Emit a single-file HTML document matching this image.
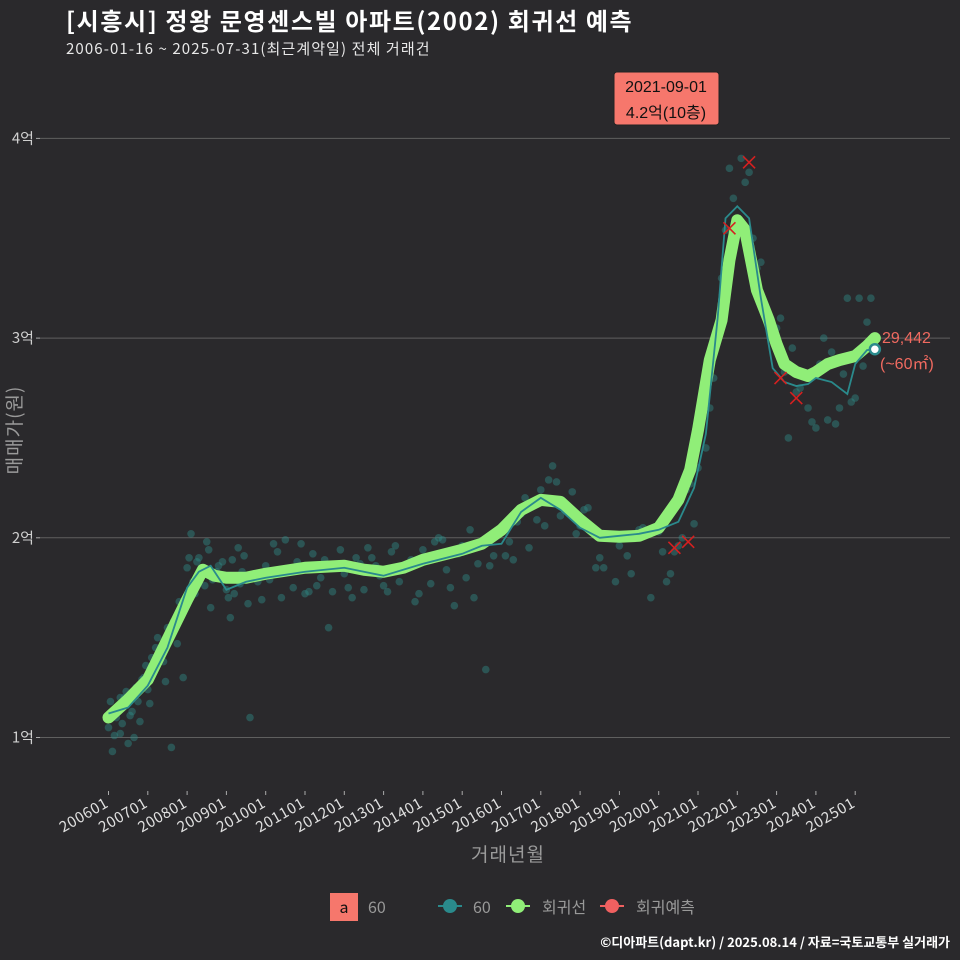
<!DOCTYPE html>
<html><head><meta charset="utf-8">
<style>
html,body{margin:0;padding:0;background:#2a292c;}
svg{display:block;font-family:"Noto Sans CJK KR","Liberation Sans",sans-serif;}
</style></head>
<body>
<svg id="chart" width="960" height="960" viewBox="0 0 960 960">
<rect x="0" y="0" width="960" height="960" fill="#2a292c"/>
<text x="66" y="30" font-size="24" font-weight="bold" letter-spacing="1.6" fill="#ffffff">[시흥시] 정왕 문영센스빌 아파트(2002) 회귀선 예측</text>
<text x="66" y="54" font-size="15" letter-spacing="1.1" fill="#e8e8e8">2006-01-16 ~ 2025-07-31(최근계약일) 전체 거래건</text>
<g id="grid"></g>
<g id="scatter"></g>
<g id="lines"></g>
<g id="xaxis"></g>
<text x="508" y="861" font-size="19" letter-spacing="1" fill="#9a9a9a" text-anchor="middle">거래년월</text>
<text transform="translate(21,430) rotate(-90)" font-size="19" letter-spacing="1" fill="#9a9a9a" text-anchor="middle">매매가(원)</text>
<g>
<rect x="614" y="72" width="105" height="53" rx="3" fill="#f6776c" stroke="#222" stroke-width="1"/>
<text x="666" y="92" font-family="Liberation Sans,Noto Sans CJK KR,sans-serif" font-size="16" fill="#111" text-anchor="middle">2021-09-01</text>
<text x="666" y="118" font-family="Liberation Sans,Noto Sans CJK KR,sans-serif" font-size="16" fill="#111" text-anchor="middle">4.2억(10층)</text>
</g>
<text x="882" y="343" font-family="Liberation Sans,sans-serif" font-size="16" fill="#f06a60">29,442</text>
<text x="880" y="369" font-family="Liberation Sans,Noto Sans CJK KR,sans-serif" font-size="16" fill="#f06a60">(~60㎡)</text>
<g>
<rect x="330" y="893" width="28" height="28" fill="#f6776c"/>
<text x="344" y="913" font-size="16" fill="#111" text-anchor="middle">a</text>
<text x="368" y="913" font-size="16" fill="#999">60</text>
<g><line x1="438" y1="906" x2="462" y2="906" stroke="#2a8a8c" stroke-width="2"/><circle cx="450" cy="906" r="7" fill="#2a8a8c"/><text x="473" y="913" font-size="16" fill="#999">60</text></g>
<g><line x1="506" y1="906" x2="530" y2="906" stroke="#90ee78" stroke-width="2"/><circle cx="518" cy="906" r="7" fill="#90ee78"/><text x="542" y="913" font-size="16" fill="#999">회귀선</text></g>
<g><line x1="600" y1="906" x2="624" y2="906" stroke="#f06060" stroke-width="2"/><circle cx="612" cy="906" r="7" fill="#f06060"/><text x="636" y="913" font-size="16" fill="#999">회귀예측</text></g>
</g>
<text x="950" y="947" font-size="13" font-weight="bold" fill="#ffffff" text-anchor="end">©디아파트(dapt.kr) / 2025.08.14 / 자료=국토교통부 실거래가</text>
</svg>
<script>
const yTicks=[10000,20000,30000,40000];
const yTickLabels=["1억","2억","3억","4억"];
const xTickYears=[2006,2007,2008,2009,2010,2011,2012,2013,2014,2015,2016,2017,2018,2019,2020,2021,2022,2023,2024,2025];
const xTickLabels=["200601","200701","200801","200901","201001","201101","201201","201301","201401","201501","201601","201701","201801","201901","202001","202101","202201","202301","202401","202501"];
const regT=[2006.0,2006.5,2007.0,2007.5,2008.0,2008.4,2008.7,2009.0,2009.5,2010,2011,2012,2012.5,2013,2013.5,2014,2015,2015.5,2016,2016.5,2017,2017.5,2018,2018.5,2019,2019.5,2020,2020.5,2020.8,2021.0,2021.3,2021.6,2021.8,2022.0,2022.2,2022.5,2022.8,2023.0,2023.2,2023.5,2023.8,2024.0,2024.3,2024.6,2025.0,2025.3,2025.5];
const regV=[11000,11900,12900,14900,16900,18400,18100,18000,18000,18200,18500,18600,18400,18300,18500,18900,19400,19700,20400,21400,21900,21800,20900,20100,20050,20100,20500,21900,23400,25400,28900,30900,33900,35900,35400,32400,30900,29700,28700,28300,28100,28300,28700,28900,29100,29600,30000];
const maT=[2006.0,2006.5,2007.0,2007.5,2008.0,2008.3,2008.6,2009.0,2009.5,2010,2011,2012,2013,2014,2015,2015.5,2016,2016.5,2017,2017.5,2018,2018.5,2019,2019.5,2020,2020.5,2020.9,2021.2,2021.5,2021.7,2022.0,2022.3,2022.6,2022.9,2023.2,2023.5,2023.8,2024.0,2024.4,2024.8,2025.0,2025.3,2025.5];
const maV=[11200,11500,12600,14500,17500,18300,18600,17400,17800,18000,18300,18500,18100,18700,19200,19600,19700,21300,22000,21400,20500,20000,20100,20200,20400,20800,22500,25200,31000,36000,36600,36000,32000,28500,27800,27600,27700,28000,27800,27200,28700,29400,29442];
const ptT=[2006.0,2006.1,2006.2,2006.3,2006.4,2006.5,2006.6,2006.7,2006.8,2006.9,2007.0,2007.2,2007.4,2007.5,2007.6,2007.8,2008.0,2008.1,2008.2,2008.3,2008.5,2008.6,2008.8,2009.0,2009.1,2009.3,2009.4,2009.6,2009.8,2010.0,2010.2,2010.4,2010.6,2010.8,2011.0,2011.2,2011.4,2011.6,2011.8,2012.0,2012.3,2012.5,2012.8,2013.0,2013.2,2013.4,2013.6,2013.8,2014.0,2014.2,2014.4,2014.6,2014.8,2015.0,2015.2,2015.4,2015.6,2015.8,2016.0,2016.3,2016.5,2016.7,2017.0,2017.1,2017.3,2017.5,2017.8,2018.0,2018.2,2018.5,2018.8,2019.0,2019.3,2019.5,2019.8,2020.0,2020.2,2020.4,2020.6,2020.8,2021.0,2021.2,2021.4,2021.5,2021.6,2021.7,2021.8,2021.9,2022.0,2022.1,2022.3,2022.5,2022.7,2022.9,2023.0,2023.2,2023.4,2023.6,2023.8,2024.0,2024.2,2024.4,2024.6,2024.8,2025.0,2025.2,2025.4,2006.3,2007.1,2008.9,2009.2,2010.5,2012.1,2013.7,2014.5,2015.3,2016.2,2017.4,2018.6,2020.3,2021.1,2022.4,2023.3,2024.5,2025.1,2009.9,2011.1,2012.7,
2006.05,2006.15,2006.25,2006.35,2006.45,2006.55,2006.65,2006.75,2006.85,2006.95,2007.05,2007.15,2007.25,2007.35,2007.45,2007.65,2007.75,2007.9,2008.05,2008.15,2008.25,2008.45,2008.55,2008.65,2008.75,2009.05,2009.15,2009.35,2009.45,2009.55,2009.7,2010.1,2010.3,2010.7,2010.9,2011.3,2011.5,2011.7,2011.9,2012.2,2012.4,2012.6,2012.9,2013.1,2013.3,2013.5,2013.9,2014.1,2014.3,2014.7,2014.9,2015.1,2015.5,2015.7,2015.9,2016.1,2016.4,2016.6,2016.9,2017.2,2017.6,2017.9,2018.1,2018.4,2018.9,2019.2,2019.6,2020.1,2020.5,2020.7,2020.9,2021.3,2021.45,2022.2,2022.6,2023.1,2023.5,2023.9,2024.1,2024.3,2024.7,2024.9,2025.3];
const ptV=[10500,9300,11000,10200,12000,9700,11300,12500,10800,13000,12400,14500,13800,15500,9500,16800,18500,20200,17200,19000,19800,16500,18600,17400,16000,19500,18300,11000,17800,18600,19700,17000,18400,18800,17200,19200,18000,15500,18600,18200,19000,17400,18600,17600,19300,17800,18600,16800,19400,17700,20000,18400,16600,19600,20400,18700,13400,19100,20300,18900,21200,19500,22400,20600,23600,21100,22300,20600,21500,19000,20100,19600,18200,20400,17000,20300,17800,19300,20000,22700,23500,24500,28000,30500,33000,35400,38500,37000,35700,39000,38300,33500,31300,30000,30500,28300,29500,27500,26500,25500,30000,29300,26500,32000,27000,28600,32000,12000,14000,18800,17200,19900,17500,18900,19900,17000,19800,22800,18500,18200,41800,35000,25000,25700,32000,16900,17300,19000,
11800,10100,11500,10700,12300,11100,10000,11800,12900,13600,11700,13300,15000,14200,12800,15800,14700,13000,19000,17800,18800,17600,19400,17900,18300,17000,18900,17700,19100,16700,18200,17900,19300,17500,19700,17600,18900,17300,19400,17000,18700,19500,18100,17300,19600,18400,17200,18900,19800,17500,19200,18000,19800,18600,20200,19100,20800,22000,20900,22900,21700,20200,21400,18500,17800,19100,20500,19300,19600,22400,20700,26500,29500,37800,33800,31000,27300,25800,28700,25900,28200,26800,30800];
const prT=[2022.3,2021.8,2023.1,2023.5,2020.4,2020.75];
const prV=[38800,35500,28000,27000,19500,19800];
const X0=40,X1=950;
const NS='http://www.w3.org/2000/svg';
function xs(t){return 108.5+(t-2006)*39.3;}
function ys(v){return 737.5-(v-10000)*0.01997;}
function mk(tag,attrs,parent){const e=document.createElementNS(NS,tag);for(const k in attrs)e.setAttribute(k,attrs[k]);parent.appendChild(e);return e;}
const grid=document.getElementById('grid');
yTicks.forEach((v,i)=>{
  const l=mk('line',{x1:X0,x2:X1,y1:ys(v),y2:ys(v),stroke:'#5f5f5f','stroke-width':1},grid);
  
  
  const tk=mk('line',{x1:X0-4,x2:X0,y1:ys(v),y2:ys(v),stroke:'#aaa'},grid);
  
  
  const t=mk('text',{x:X0-6,y:ys(v)+5,'font-size':15,fill:'#cfcfcf','text-anchor':'end'},grid);
  t.textContent=yTickLabels[i];
  
  
});
const xa=document.getElementById('xaxis');
xTickYears.forEach((yr,i)=>{
  const x=xs(yr);
  const tk=mk('line',{x1:x,x2:x,y1:791,y2:795,stroke:'#aaa'},xa);
  
  
  const t=mk('text',{transform:`translate(${x+1},806) rotate(-30)`,'font-size':15,'letter-spacing':0.6,fill:'#e0e0e0','text-anchor':'end'},xa);
  t.textContent=xTickLabels[i];
  
  
});
const sc=document.getElementById('scatter');
ptT.forEach((t,i)=>{
  const c=mk('circle',{cx:xs(t),cy:ys(ptV[i]),r:3.8,fill:'#2e8a86','fill-opacity':0.45},sc);
  
  
});
const ln=document.getElementById('lines');
const rp=mk('polyline',{points:regT.map((t,i)=>xs(t)+','+ys(regV[i])).join(' '),fill:'none',stroke:'#90ee78','stroke-width':12,'stroke-linejoin':'round','stroke-linecap':'round'},ln);


const mp=mk('polyline',{points:maT.map((t,i)=>xs(t)+','+ys(maV[i])).join(' '),fill:'none',stroke:'#2a8a8c','stroke-width':1.8},ln);


prT.forEach((t,i)=>{
  const x=xs(t),y=ys(prV[i]);
  const g=mk('path',{d:`M${x-6},${y-6}L${x+6},${y+6}M${x-6},${y+6}L${x+6},${y-6}`,stroke:'#d42020','stroke-width':1.6},ln);
  
  
});
const li=maT.length-1;
const lc=mk('circle',{cx:xs(maT[li]),cy:ys(maV[li]),r:5,fill:'#fff',stroke:'#2a8a8c','stroke-width':2.5},ln);


</script>
</body></html>
